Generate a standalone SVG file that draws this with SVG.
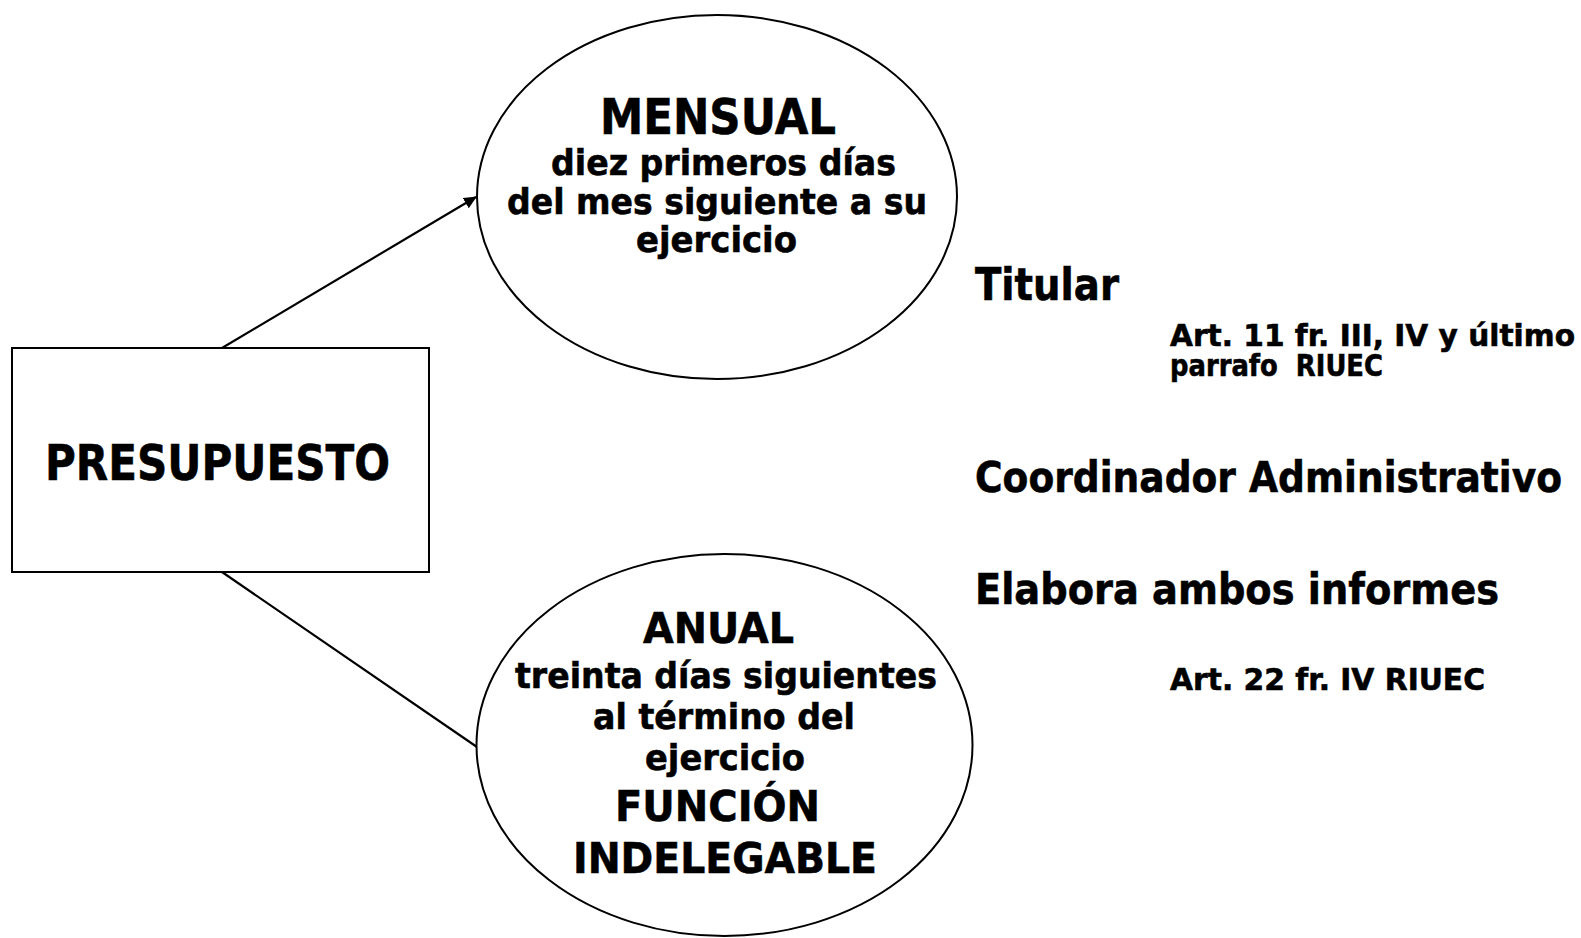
<svg xmlns="http://www.w3.org/2000/svg" width="1581" height="938" viewBox="0 0 1581 938">
<style>
.shape{fill:#fff;stroke:#000;stroke-width:2}
.conn{stroke:#000;stroke-width:2.2;fill:none}
text{font-family:"DejaVu Sans","Verdana",sans-serif;font-weight:bold;fill:#000;stroke:#000;stroke-width:0.6}
</style>
<defs>
<marker id="arr" markerWidth="13" markerHeight="12" refX="12" refY="6" orient="auto" markerUnits="userSpaceOnUse" viewBox="0 0 13 12">
<path d="M0,0 L13,6 L0,12 z" fill="#000"/>
</marker>
</defs>
<rect width="1581" height="938" fill="#fff"/>
<g id="connectors">
<line class="conn" x1="222" y1="348" x2="476" y2="197" marker-end="url(#arr)"/>
<line class="conn" x1="222" y1="572" x2="477" y2="747"/>
</g>
<g id="presupuesto">
<rect class="shape" x="12" y="348" width="417" height="224"/>
<text x="45" y="480" font-size="50" textLength="345" lengthAdjust="spacingAndGlyphs">PRESUPUESTO</text>
</g>
<g id="mensual">
<ellipse class="shape" cx="717" cy="197" rx="240" ry="182"/>
<text x="600" y="134" font-size="49" textLength="236" lengthAdjust="spacingAndGlyphs">MENSUAL</text>
<text x="551" y="175" font-size="36" textLength="345" lengthAdjust="spacingAndGlyphs">diez primeros días</text>
<text x="507" y="214" font-size="36" textLength="420" lengthAdjust="spacingAndGlyphs">del mes siguiente a su</text>
<text x="636" y="252" font-size="36" textLength="161" lengthAdjust="spacingAndGlyphs">ejercicio</text>
</g>
<g id="anual">
<ellipse class="shape" cx="724.5" cy="745" rx="248" ry="191"/>
<text x="643" y="643" font-size="42" textLength="151" lengthAdjust="spacingAndGlyphs">ANUAL</text>
<text x="515" y="688" font-size="36" textLength="422" lengthAdjust="spacingAndGlyphs">treinta días siguientes</text>
<text x="593" y="729" font-size="36" textLength="262" lengthAdjust="spacingAndGlyphs">al término del</text>
<text x="645" y="770" font-size="36" textLength="160" lengthAdjust="spacingAndGlyphs">ejercicio</text>
<text x="615" y="821" font-size="43" textLength="205" lengthAdjust="spacingAndGlyphs">FUNCIÓN</text>
<text x="573" y="873" font-size="43" textLength="304" lengthAdjust="spacingAndGlyphs">INDELEGABLE</text>
</g>
<g id="right-texts">
<text x="975" y="300" font-size="44" textLength="144" lengthAdjust="spacingAndGlyphs">Titular</text>
<text x="1170" y="346" font-size="30" textLength="405" lengthAdjust="spacingAndGlyphs">Art. 11 fr. III, IV y último</text>
<text x="1170" y="376" font-size="30" textLength="213" lengthAdjust="spacingAndGlyphs" xml:space="preserve">parrafo  RIUEC</text>
<text x="975" y="492" font-size="43" textLength="587" lengthAdjust="spacingAndGlyphs">Coordinador Administrativo</text>
<text x="975" y="604" font-size="42" textLength="524" lengthAdjust="spacingAndGlyphs">Elabora ambos informes</text>
<text x="1170" y="690" font-size="30" textLength="315" lengthAdjust="spacingAndGlyphs">Art. 22 fr. IV RIUEC</text>
</g>
</svg>
